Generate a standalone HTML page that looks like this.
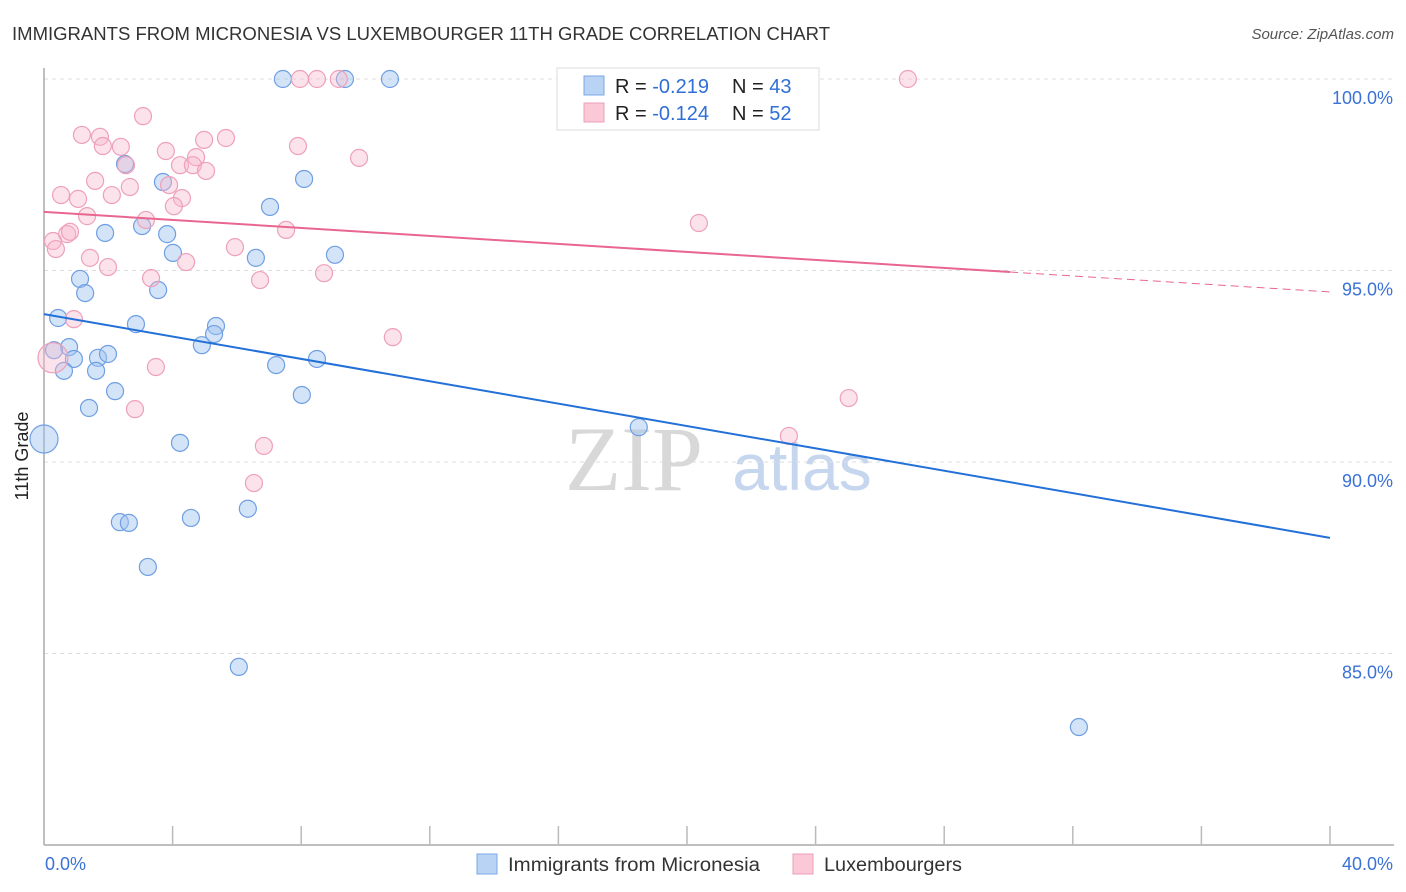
<!DOCTYPE html>
<html><head><meta charset="utf-8"><style>
body{margin:0;background:#fff;font-family:"Liberation Sans",sans-serif;}
#c{position:relative;width:1406px;height:892px;overflow:hidden;}
</style></head><body>
<div id="c">
<svg id="s" width="1406" height="892" xmlns="http://www.w3.org/2000/svg">
<text x="12" y="40" font-size="18" fill="#333" textLength="818" lengthAdjust="spacingAndGlyphs">IMMIGRANTS FROM MICRONESIA VS LUXEMBOURGER 11TH GRADE CORRELATION CHART</text>
<text x="1394" y="39" font-size="15" fill="#555" font-style="italic" text-anchor="end">Source: ZipAtlas.com</text>
<text x="28" y="456" font-size="18" fill="#222" transform="rotate(-90 28 456)" text-anchor="middle">11th Grade</text>
<g><text x="634" y="490" font-size="92" fill="#d8d8d8" font-family="Liberation Serif,serif" text-anchor="middle">ZIP</text><text x="802" y="490" font-size="66" fill="#c5d6ee" text-anchor="middle">atlas</text></g>
<g id="grid"></g><g id="axes"></g><g id="pts"></g><g id="lines"></g>
<g>
<rect x="557" y="68" width="262" height="62" fill="#fff" stroke="#ddd"/>
<rect x="584" y="76" width="20" height="19" fill="#b9d3f5" stroke="#7aa7e6"/>
<rect x="584" y="103" width="20" height="19" fill="#fbc8d7" stroke="#ee9fb8"/>
<text x="615" y="93" font-size="20" fill="#222">R = <tspan fill="#2f6fd6">-0.219</tspan></text>
<text x="732" y="93" font-size="20" fill="#222">N = <tspan fill="#2f6fd6">43</tspan></text>
<text x="615" y="120" font-size="20" fill="#222">R = <tspan fill="#2f6fd6">-0.124</tspan></text>
<text x="732" y="120" font-size="20" fill="#222">N = <tspan fill="#2f6fd6">52</tspan></text>
</g>
<g>
<rect x="477" y="854" width="20" height="20" fill="#b9d3f5" stroke="#7aa7e6"/>
<text x="508" y="871" font-size="19" fill="#333" textLength="252" lengthAdjust="spacingAndGlyphs">Immigrants from Micronesia</text>
<rect x="793" y="854" width="20" height="20" fill="#fbc8d7" stroke="#ee9fb8"/>
<text x="824" y="871" font-size="19" fill="#333" textLength="138" lengthAdjust="spacingAndGlyphs">Luxembourgers</text>
</g>
</svg></div>
<script>
const blueX=[7.43,9.36,10.76,2.52,3.70,8.09,7.03,3.05,1.90,3.83,4.01,6.59,9.05,1.12,1.28,3.55,0.44,2.86,5.35,5.29,4.91,0.78,0.31,0.93,1.68,1.99,7.22,8.49,0.62,1.62,2.21,8.02,1.40,18.50,0,4.23,6.34,4.57,2.36,2.64,3.23,6.06,32.19];
const blueY=[100,100,100,97.78,97.31,97.39,96.66,96.16,95.98,95.95,95.46,95.33,95.41,94.78,94.41,94.49,93.76,93.60,93.55,93.34,93.05,93.00,92.92,92.69,92.72,92.82,92.53,92.69,92.38,92.38,91.85,91.75,91.41,90.91,90.60,90.50,88.78,88.54,88.43,88.41,87.26,84.65,83.08];
const pinkX=[7.96,8.49,9.17,26.87,3.08,1.18,1.74,5.66,4.98,1.83,2.39,3.79,7.90,9.80,4.73,4.23,4.63,5.04,2.55,1.59,3.89,2.67,2.11,0.53,1.06,4.29,4.04,1.34,3.17,7.53,20.37,0.72,0.81,0.28,0.37,5.94,1.43,4.42,1.99,8.71,3.33,6.72,0.93,10.85,0.28,3.48,2.83,25.03,6.84,23.17,6.53];
const pinkY=[100,100,100,100,99.03,98.54,98.49,98.46,98.41,98.25,98.23,98.12,98.25,97.94,97.96,97.75,97.75,97.60,97.75,97.34,97.23,97.18,96.97,96.97,96.87,96.89,96.68,96.42,96.32,96.06,96.24,95.95,96.01,95.77,95.56,95.61,95.33,95.22,95.09,94.93,94.80,94.75,93.73,93.26,92.72,92.48,91.38,91.67,90.42,90.68,89.45];
const bigBlue=[34];const bigPink=[44];
const yTicks=[100,95,90,85];const yTickLabels=["100.0%","95.0%","90.0%","85.0%"];
const xTicks=[0,4,8,12,16,20,24,28,32,36,40];
const blueTrend=[93.86,88.02];const pinkTrend=[96.53,94.44];const pinkSolidEnd=30.05;
const X=v=>44+v/40*1286, Y=v=>79+(100-v)*38.3;
const NS="http://www.w3.org/2000/svg";
function mk(p,t,a){const e=document.createElementNS(NS,t);for(const k in a)e.setAttribute(k,a[k]);document.getElementById(p).appendChild(e);return e;}
yTicks.forEach((t,i)=>{
 const g=mk('grid','line',{x1:44,x2:1394,y1:Y(t),y2:Y(t),stroke:'#ddd','stroke-dasharray':'4 4'});
 
 
 const l=mk('axes','text',{x:1393,y:Y(t)+25,'font-size':18,fill:'#3a72d6','text-anchor':'end'});l.textContent=yTickLabels[i];
 
 
});
let a=mk('axes','line',{x1:44,x2:44,y1:68,y2:845,stroke:'#aaa','stroke-width':1.5});


a=mk('axes','line',{x1:44,x2:1394,y1:845,y2:845,stroke:'#aaa','stroke-width':1.5});


xTicks.forEach(t=>{if(t>0){const k=mk('axes','line',{x1:X(t),x2:X(t),y1:826,y2:845,stroke:'#bbb','stroke-width':1.5});
 
 }});
let xl=mk('axes','text',{x:45,y:870,'font-size':18,fill:'#3a72d6'});xl.textContent='0.0%';


xl=mk('axes','text',{x:1393,y:870,'font-size':18,fill:'#3a72d6','text-anchor':'end'});xl.textContent='40.0%';


blueX.forEach((x,i)=>{const c=mk('pts','circle',{cx:X(x),cy:Y(blueY[i]),r:bigBlue.includes(i)?14:8.5,fill:'rgba(160,195,240,0.45)',stroke:'#6f9fe2','stroke-width':1.2});
 
 });
pinkX.forEach((x,i)=>{const c=mk('pts','circle',{cx:X(x),cy:Y(pinkY[i]),r:bigPink.includes(i)?15:8.5,fill:'rgba(248,185,205,0.4)',stroke:'#eea0b9','stroke-width':1.2});
 
 });
let tl=mk('lines','line',{x1:X(0),y1:Y(blueTrend[0]),x2:X(40),y2:Y(blueTrend[1]),stroke:'#2270d8','stroke-width':2});


const pv=x=>pinkTrend[0]+(pinkTrend[1]-pinkTrend[0])*x/40;
tl=mk('lines','line',{x1:X(0),y1:Y(pv(0)),x2:X(pinkSolidEnd),y2:Y(pv(pinkSolidEnd)),stroke:'#e8668f','stroke-width':2});


tl=mk('lines','line',{x1:X(pinkSolidEnd),y1:Y(pv(pinkSolidEnd)),x2:X(40),y2:Y(pv(40)),stroke:'#e8668f','stroke-width':1,'stroke-dasharray':'8 5'});


</script>
</body></html>
